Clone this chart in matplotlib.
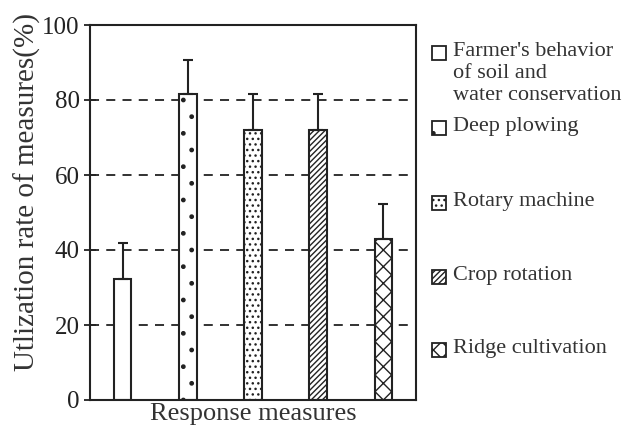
import matplotlib
matplotlib.use("Agg")
import matplotlib.pyplot as plt
from matplotlib.patches import Rectangle

plt.rcParams['font.family'] = ['Liberation Serif', 'DejaVu Serif']
plt.rcParams['hatch.linewidth'] = 1.0

# data
labels = ["Farmer's behavior\nof soil and\nwater conservation",
          "Deep plowing", "Rotary machine", "Crop rotation", "Ridge cultivation"]
values = [32.4, 81.5, 72.1, 72.1, 42.9]
errors = [9.6, 9.3, 9.4, 9.4, 9.4]
hatches = ['', '.', '...', '//////', 'xx']
yticks = [0, 20, 40, 60, 80, 100]

fig = plt.figure(figsize=(6.37, 4.25), dpi=100)
ax = fig.add_axes([90 / 637, 25 / 425, 326 / 637, 375 / 425])

x = list(range(len(values)))
for xi, v, e, h in zip(x, values, errors, hatches):
    ax.bar(xi, v, width=0.27, color='white', edgecolor='#222222',
           linewidth=1.5, hatch=h, zorder=2)
    ax.errorbar(xi, v, yerr=[[0], [e]], fmt='none', ecolor='#222222',
                elinewidth=1.5, capsize=3.5, capthick=1.5, zorder=3)

for y in yticks[1:-1]:
    ax.axhline(y, color='#222222', linestyle=(0, (5, 4)), linewidth=1.3, zorder=1)

ax.set_xlim(-0.5, 4.5)
ax.set_ylim(0, 100)
ax.set_yticks(yticks)
ax.set_xticks([])
ax.tick_params(axis='y', direction='inout', length=9, width=1.3,
               labelsize=18, colors='#222222', pad=3)
for s in ax.spines.values():
    s.set_linewidth(1.5)
    s.set_color('#222222')
ax.set_ylabel('Utlization rate of measures(%)', fontsize=21, color='#333333')
ax.yaxis.set_label_coords(-0.15, 0.555)
ax.set_xlabel('Response measures', fontsize=19, color='#333333', labelpad=2)

# legend drawn at the right of the axes
leg_y = [53, 128, 203, 277, 350]
for lab, h, yy in zip(labels, hatches, leg_y):
    sq = Rectangle((432 / 637, 1 - (yy + 7) / 425), 14 / 637, 14 / 425,
                   transform=fig.transFigure, facecolor='white',
                   edgecolor='#222222', linewidth=1.3, hatch=h)
    fig.patches.append(sq)
    fig.text(453 / 637, 1 - (yy - 11) / 425, lab, fontsize=16, color='#333333',
             va='top', ha='left', linespacing=1.2)

fig.savefig('out.png', dpi=100)
